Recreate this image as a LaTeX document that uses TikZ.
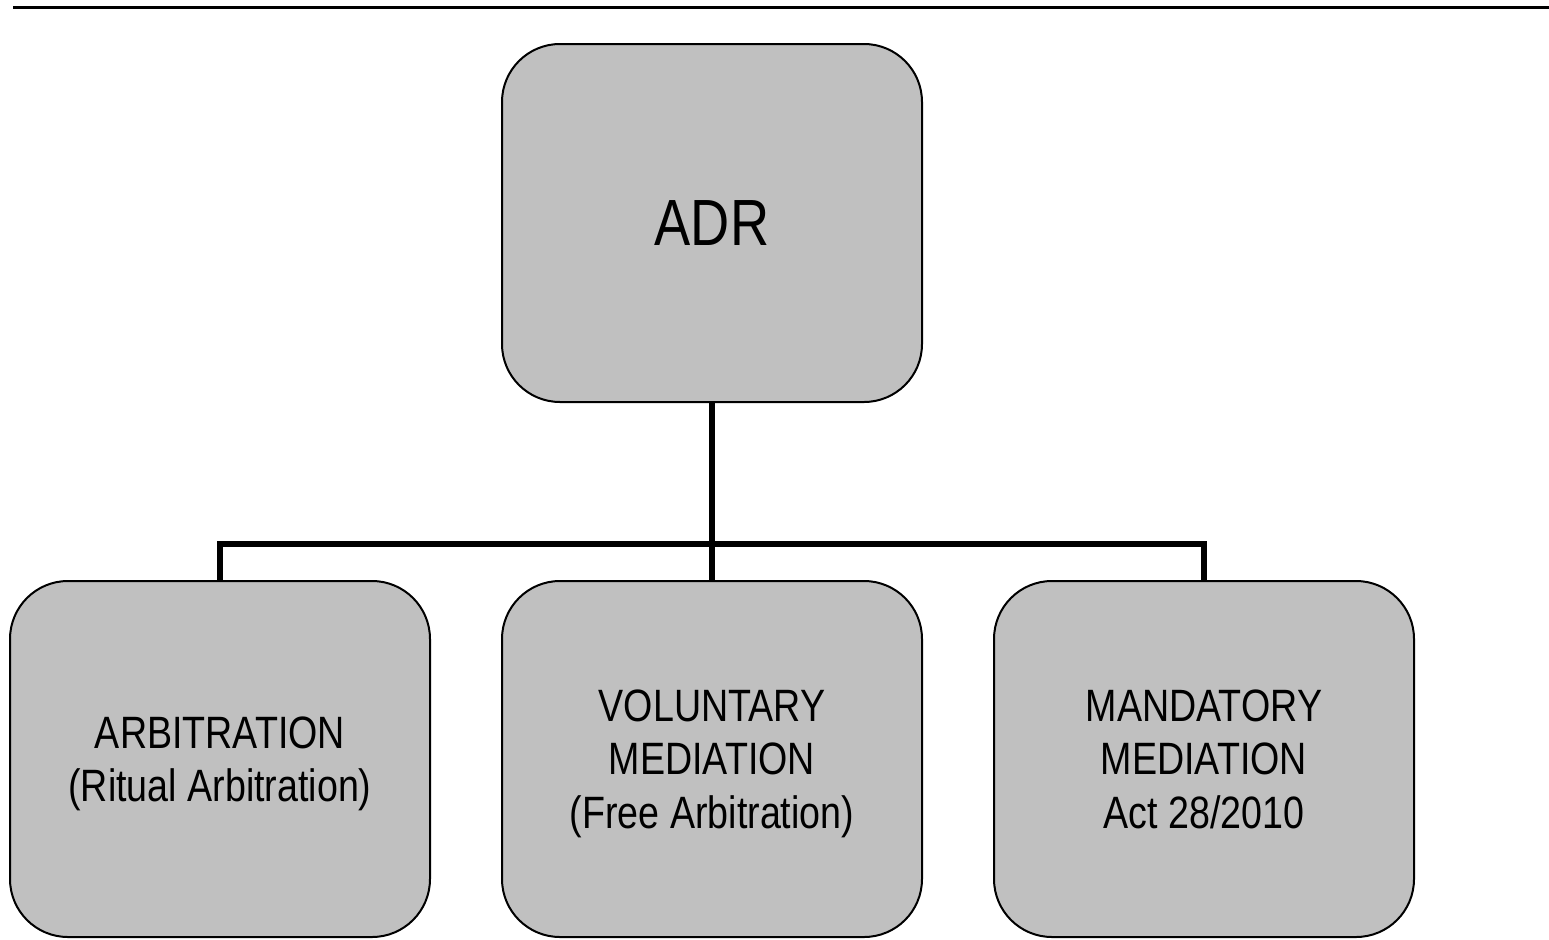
\documentclass[tikz,border=0pt]{standalone}
\usepackage{fontspec}
\setmainfont{Liberation Sans}[FakeStretch=0.83]
\usetikzlibrary{positioning}

\tikzset{every picture/.style={line width=0.75pt}}
\tikzset{
  adrbox/.style={draw={rgb, 255:red, 0; green, 0; blue, 0 }, fill={rgb, 255:red, 192; green, 192; blue, 192 }, line width=1.5, rounded corners=43.5pt, align=center, inner sep=0.75pt},
  topbox/.style={adrbox, minimum width=315pt, minimum height=268.5pt, font=\fontsize{49}{58}\selectfont},
  subbox/.style={adrbox, minimum width=315pt, minimum height=267pt, text depth=0pt, font=\fontsize{34}{40}\selectfont},
  busline/.style={line width=4.5}
}

\begin{document}
\begin{tikzpicture}[x=0.75pt,y=0.75pt,yscale=-1,xscale=1]
\useasboundingbox (0,0) rectangle (1549,939);

%Straight Lines (rule across the top)
\coordinate (ruleL) at (13,7.5);
\coordinate (ruleR) at (1549,7.5);
\draw [line width=2.25] (ruleL) -- (ruleR);

%Shape: Rounded Rect (root)
\node [topbox] (adr) at (712,223) {ADR};

%Shape: Rounded Rect (children)
\node [subbox] (vol) at (712,759) {VOLUNTARY\\MEDIATION\\(Free Arbitration)};
\node [subbox, left=52.5pt of vol] (arb) {ARBITRATION\\(Ritual Arbitration)};
\node [subbox, right=52.5pt of vol] (man) {MANDATORY\\MEDIATION\\Act 28/2010};

%Straight Lines (tree connectors)
\coordinate (split) at (712,544);
\draw [busline] (adr.south) -- (split);
\draw [busline] (arb.north) |- (split) -| (man.north);
\draw [busline] (split) -- (vol.north);

\end{tikzpicture}
\end{document}
